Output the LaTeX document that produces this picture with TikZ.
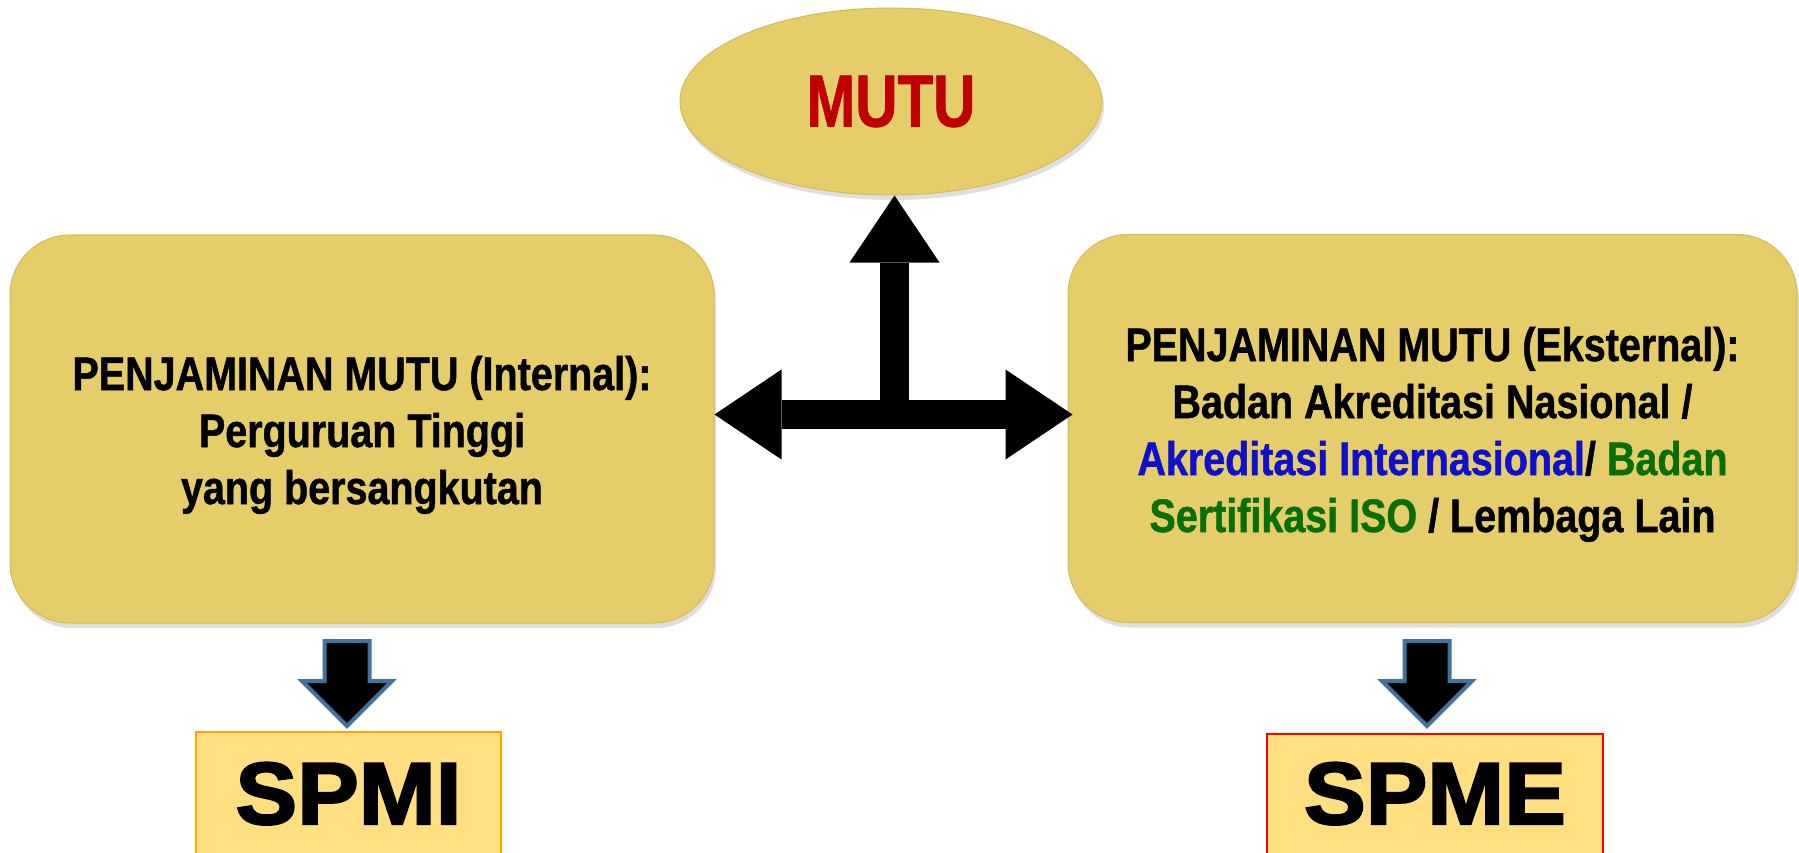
\documentclass[tikz,border=0pt]{standalone}
\usepackage{fontspec}
\usetikzlibrary{shapes.geometric, arrows.meta, shadows, calc}
\newfontfamily\boxfont{Liberation Sans}[FakeStretch=0.84, FakeBold=1]
\newfontfamily\mutufont{Liberation Sans}[FakeStretch=0.79, FakeBold=1]
\newfontfamily\spmfont{Liberation Sans}[FakeStretch=1.05, FakeBold=2.5]
\definecolor{goldfill}{RGB}{229,205,106}
\definecolor{goldedge}{RGB}{214,186,84}
\definecolor{mutured}{RGB}{192,0,0}
\definecolor{intblue}{RGB}{16,16,204}
\definecolor{isogreen}{RGB}{8,110,8}
\definecolor{spmfill}{RGB}{255,223,128}
\definecolor{spmiedge}{RGB}{255,165,0}
\definecolor{arrowblue}{RGB}{65,113,156}
\newcommand{\topstrut}{\rule{0pt}{46pt}}
\tikzset{
	gold box/.style={rectangle, rounded corners=60pt, fill=goldfill, draw=goldedge, line width=1pt,
		minimum height=388pt, align=center, font=\boxfont\bfseries\fontsize{47}{57}\selectfont,
		drop shadow={shadow xshift=2pt, shadow yshift=-5pt, opacity=0.25}},
	mutu node/.style={ellipse, fill=goldfill, draw=goldedge, line width=1pt, minimum width=422pt,
		minimum height=187pt, inner sep=0pt, text=mutured, font=\mutufont\bfseries\fontsize{74}{80}\selectfont,
		drop shadow={shadow xshift=2pt, shadow yshift=-5pt, opacity=0.25}},
	spm box/.style={rectangle, fill=spmfill, line width=2pt, inner xsep=0pt, text height=63pt,
		text depth=70pt, font=\spmfont\bfseries\fontsize{88}{90}\selectfont, anchor=north},
	block arrow/.style={fill=black, draw=arrowblue, line width=4pt, line join=miter},
	t arrow/.style={line width=29pt, draw=black, >={Triangle[length=67pt, width=90pt, line width=0pt]}},
}
\begin{document}
\begin{tikzpicture}[x=1pt, y=-1pt]
\useasboundingbox (0,0) rectangle (1799,853);

% top
\node[mutu node] (mutu) at (891,101.5) {MUTU};

% internal and external
\node[gold box, minimum width=704pt] (lbox) at (362,429)
	{\topstrut PENJAMINAN MUTU (Internal):\\Perguruan Tinggi\\yang bersangkutan};
\node[gold box, minimum width=729pt] (rbox) at (1432.5,428.5)
	{\topstrut PENJAMINAN MUTU (Eksternal):\\
	Badan Akreditasi Nasional /\\
	\textcolor{intblue}{Akreditasi Internasional}/ \textcolor{isogreen}{Badan}\\
	\textcolor{isogreen}{Sertifikasi ISO} / Lembaga Lain};

% systems
\node[spm box, draw=spmiedge, minimum width=305pt, inner ysep=29pt] (spmi) at (348.5,731) {SPMI};
\node[spm box, draw=red, minimum width=336pt, inner ysep=27pt] (spme) at (1435,733) {SPME};

% arrows
\coordinate (hub) at (894.5,414.5);
\draw[t arrow, <->] (lbox.east |- hub) -- ($(rbox.west |- hub)+(5,0)$);
\draw[t arrow, ->] (hub) -- (hub |- mutu.south);
\draw[block arrow] ($(spmi.north)+(-1.5,-5)$) -- ++(-45,-45) -- ++(22.5,0) -- ++(0,-40)
	-- ++(45,0) -- ++(0,40) -- ++(22.5,0) -- cycle;
\draw[block arrow] ($(spme.north)+(-8,-7)$) -- ++(-45,-45) -- ++(22.5,0) -- ++(0,-40)
	-- ++(45,0) -- ++(0,40) -- ++(22.5,0) -- cycle;

\end{tikzpicture}
\end{document}
